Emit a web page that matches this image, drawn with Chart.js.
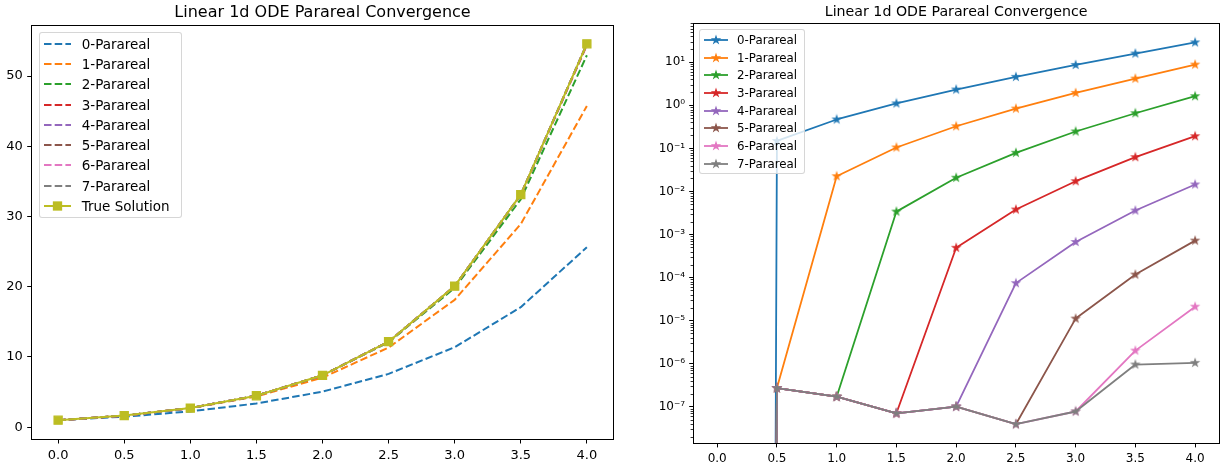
<!DOCTYPE html>
<html>
<head>
<meta charset="utf-8">
<script src="https://cdn.jsdelivr.net/npm/chart.js@4.4.1/dist/chart.umd.min.js"></script>
<style>
  html, body { margin: 0; padding: 0; background: #fff; }
  body { width: 1225px; height: 467px; position: relative; overflow: hidden; font-family: "DejaVu Sans", sans-serif; }
  canvas.plot { position: absolute; top: 0; }
  .legend {
    position: absolute; box-sizing: border-box;
    background: rgba(255,255,255,0.8);
    border: 1px solid rgba(204,204,204,0.8);
    border-radius: 3px; color: #000;
  }
  .legend .row { display: flex; align-items: center; white-space: nowrap; }
  .legend canvas { display: block; }
</style>
</head>
<body>
<canvas class="plot" id="linChart" width="640" height="467" style="left:0"></canvas>
<canvas class="plot" id="logChart" width="585" height="467" style="left:640px"></canvas>
<div class="legend" id="legLin"></div>
<div class="legend" id="legLog"></div>
<script>
const title = "Linear 1d ODE Parareal Convergence";
const tValues = [0, 0.5, 1.0, 1.5, 2.0, 2.5, 3.0, 3.5, 4.0];
const xTicks = [0, 0.5, 1.0, 1.5, 2.0, 2.5, 3.0, 3.5, 4.0];
const linYTicks = [0, 10, 20, 30, 40, 50];
const logYTicks = [1e-7, 1e-6, 1e-5, 1e-4, 1e-3, 1e-2, 1e-1, 1e0, 1e1];
const names = ["0-Parareal", "1-Parareal", "2-Parareal", "3-Parareal", "4-Parareal", "5-Parareal", "6-Parareal", "7-Parareal"];
const colors = ["#1f77b4", "#ff7f0e", "#2ca02c", "#d62728", "#9467bd", "#8c564b", "#e377c2", "#7f7f7f"];
const trueColor = "#bcbd22";

// left panel: solution values
const trueSolution = [1.00, 1.65, 2.72, 4.48, 7.39, 12.18, 20.09, 33.12, 54.60];
const para0 = [1.00, 1.50, 2.25, 3.38, 5.06, 7.59, 11.39, 17.09, 25.63];
const para1 = [1.00, 1.65, 2.70, 4.38, 7.06, 11.34, 18.14, 28.93, 45.75];
const para2 = [1.00, 1.65, 2.72, 4.48, 7.37, 12.10, 19.84, 32.46, 52.97];
const para3 = [1.00, 1.65, 2.72, 4.48, 7.39, 12.18, 20.07, 33.06, 54.41];
const para4 = [1.00, 1.65, 2.72, 4.48, 7.39, 12.18, 20.09, 33.12, 54.59];
const para5 = [1.00, 1.65, 2.72, 4.48, 7.39, 12.18, 20.09, 33.12, 54.60];
const para6 = [1.00, 1.65, 2.72, 4.48, 7.39, 12.18, 20.09, 33.12, 54.60];
const para7 = [1.00, 1.65, 2.72, 4.48, 7.39, 12.18, 20.09, 33.12, 54.60];

// right panel: absolute error (0 at t=0)
const err0 = [0, 0.149, 0.47, 1.11, 2.33, 4.6, 8.7, 16.0, 29.0];
const err1 = [0, 2.7e-7, 0.0226, 0.105, 0.327, 0.84, 1.95, 4.19, 8.85];
const err2 = [0, 2.7e-7, 1.7e-7, 3.4e-3, 0.0208, 0.079, 0.247, 0.656, 1.63];
const err3 = [0, 2.7e-7, 1.7e-7, 7.0e-8, 4.9e-4, 3.8e-3, 0.0173, 0.0625, 0.192];
const err4 = [0, 2.7e-7, 1.7e-7, 7.0e-8, 1.0e-7, 7.4e-5, 6.7e-4, 3.6e-3, 0.0145];
const err5 = [0, 2.7e-7, 1.7e-7, 7.0e-8, 1.0e-7, 3.9e-8, 1.11e-5, 1.17e-4, 7.2e-4];
const err6 = [0, 2.7e-7, 1.7e-7, 7.0e-8, 1.0e-7, 3.9e-8, 7.7e-8, 2.0e-6, 2.1e-5];
const err7 = [0, 2.7e-7, 1.7e-7, 7.0e-8, 1.0e-7, 3.9e-8, 7.7e-8, 9.5e-7, 1.04e-6];

const paraSeries = [para0, para1, para2, para3, para4, para5, para6, para7];
const errSeries = [err0, err1, err2, err3, err4, err5, err6, err7];

Chart.defaults.font.family = "DejaVu Sans";
Chart.defaults.color = "#000";

const pts = (ys, fix = v => v) => tValues.map((t, i) => ({ x: t, y: fix(ys[i]) }));
// log axis cannot show 0: push it far below like matplotlib's clipping
const logSafe = v => (v > 0 ? v : Number.MIN_VALUE);

function starImage(color, r, edge) {
  const size = Math.ceil(2 * (r + edge)) + 2;
  const c = document.createElement("canvas");
  c.width = c.height = size;
  const ctx = c.getContext("2d");
  ctx.translate(size / 2, size / 2);
  ctx.beginPath();
  for (let i = 0; i < 10; i++) {
    const a = -Math.PI / 2 + i * Math.PI / 5;
    const rr = i % 2 ? r * 0.382 : r;
    ctx.lineTo(rr * Math.cos(a), rr * Math.sin(a));
  }
  ctx.closePath();
  ctx.fillStyle = color;
  ctx.fill();
  ctx.lineWidth = edge;
  ctx.strokeStyle = color;
  ctx.lineJoin = "miter";
  ctx.stroke();
  return c;
}

// axes box drawn on whole pixels so it stays crisp
const frame = {
  id: "frame",
  afterDatasetsDraw(chart) {
    const { left, top, right, bottom } = chart.chartArea;
    const l = Math.floor(left) + 0.5, t = Math.floor(top) + 0.5;
    const r = Math.floor(right) + 0.5, b = Math.floor(bottom) + 0.5;
    const ctx = chart.ctx;
    ctx.save();
    ctx.strokeStyle = "#000";
    ctx.lineWidth = 1;
    ctx.strokeRect(l, t, r - l, b - t);
    ctx.restore();
  },
};

const minorTicks = {
  id: "minorTicks",
  afterDraw(chart) {
    const y = chart.scales.y;
    const left = Math.floor(chart.chartArea.left);
    const ctx = chart.ctx;
    ctx.save();
    ctx.strokeStyle = "#000";
    ctx.lineWidth = 0.8;
    ctx.beginPath();
    for (let e = -9; e <= 2; e++) {
      for (let m = 2; m <= 9; m++) {
        const v = m * Math.pow(10, e);
        if (v <= y.min || v >= y.max) continue;
        const py = Math.round(y.getPixelForValue(v)) + 0.5;
        ctx.moveTo(left - 2.4, py);
        ctx.lineTo(left, py);
      }
    }
    ctx.stroke();
    ctx.restore();
  },
};

function margins(lo, hi) {
  const d = (hi - lo) * 0.05;
  return [lo - d, hi + d];
}

// ---------- left: solutions ----------
const allLin = paraSeries.flat().concat(trueSolution);
const [linMin, linMax] = margins(Math.min(...allLin), Math.max(...allLin));

const linDatasets = paraSeries.map((s, i) => ({
  label: names[i],
  data: pts(s),
  borderColor: colors[i],
  borderWidth: 2,
  borderDash: [7.5, 3.2],
  borderJoinStyle: "round",
  pointRadius: 0,
  fill: false,
  clip: 0,
  order: 20 - i,
}));
linDatasets.push({
  label: "True Solution",
  data: pts(trueSolution),
  borderColor: trueColor,
  borderWidth: 2,
  borderJoinStyle: "round",
  pointStyle: "rect",
  pointRadius: 5.7,
  pointBorderWidth: 1.3,
  pointBackgroundColor: trueColor,
  pointBorderColor: trueColor,
  fill: false,
  clip: 0,
  order: 0,
});

new Chart(document.getElementById("linChart"), {
  type: "line",
  data: { datasets: linDatasets },
  options: {
    responsive: false,
    animation: false,
    events: [],
    layout: { padding: { left: 0, right: 26.7, top: 0, bottom: 0 } },
    plugins: {
      legend: { display: false },
      tooltip: { enabled: false },
      title: {
        display: true, text: title, color: "#000", fullSize: false,
        font: { size: 16, weight: "normal" },
        padding: { top: 3, bottom: 2.8 },
      },
    },
    scales: {
      x: {
        type: "linear", min: -0.2, max: 4.2,
        afterFit: s => { s.height = 28; },
        afterBuildTicks: s => { s.ticks = xTicks.map(v => ({ value: v })); },
        ticks: { callback: v => v.toFixed(1), font: { size: 13 }, color: "#000", padding: 4.5, maxRotation: 0, autoSkip: false },
        grid: { drawOnChartArea: false, drawTicks: true, tickLength: 4.5, color: "#000", lineWidth: 1 },
        border: { display: false },
      },
      y: {
        type: "linear", min: linMin, max: linMax,
        afterFit: s => { s.width = 31.7; },
        afterBuildTicks: s => { s.ticks = linYTicks.map(v => ({ value: v })); },
        ticks: { callback: v => String(v), font: { size: 13 }, color: "#000", padding: 4.5, autoSkip: false },
        grid: { drawOnChartArea: false, drawTicks: true, tickLength: 4.5, color: "#000", lineWidth: 1 },
        border: { display: false },
      },
    },
  },
  plugins: [frame],
});

// ---------- right: errors on log scale ----------
const positives = errSeries.flat().filter(v => v > 0);
const [lgLo, lgHi] = margins(Math.log10(Math.min(...positives)), Math.log10(Math.max(...positives)));

const stars = colors.map(c => starImage(c, 3.55, 1.2));
const logDatasets = errSeries.map((s, i) => ({
  label: names[i],
  data: pts(s, logSafe),
  borderColor: colors[i],
  borderWidth: 1.8,
  borderJoinStyle: "round",
  pointStyle: stars[i],
  pointRadius: 4,
  fill: false,
  clip: 0,
  order: 20 - i,
}));

const sup = { "-": "\u207B", "0": "\u2070", "1": "\u00B9", "2": "\u00B2", "3": "\u00B3", "4": "\u2074", "5": "\u2075", "6": "\u2076", "7": "\u2077", "8": "\u2078", "9": "\u2079" };
const powLabel = v => "10" + String(Math.round(Math.log10(v))).split("").map(c => sup[c]).join("");

new Chart(document.getElementById("logChart"), {
  type: "line",
  data: { datasets: logDatasets },
  options: {
    responsive: false,
    animation: false,
    events: [],
    layout: { padding: { left: 0, right: 6, top: 0, bottom: 0 } },
    plugins: {
      legend: { display: false },
      tooltip: { enabled: false },
      title: {
        display: true, text: title, color: "#000", fullSize: false,
        font: { size: 14.2, weight: "normal" },
        padding: { top: 3.5, bottom: 2.8 },
      },
    },
    scales: {
      x: {
        type: "linear", min: -0.2, max: 4.2,
        afterFit: s => { s.height = 23.7; },
        afterBuildTicks: s => { s.ticks = xTicks.map(v => ({ value: v })); },
        ticks: { callback: v => v.toFixed(1), font: { size: 12 }, color: "#000", padding: 4.1, maxRotation: 0, autoSkip: false },
        grid: { drawOnChartArea: false, drawTicks: true, tickLength: 4.1, color: "#000", lineWidth: 1 },
        border: { display: false },
      },
      y: {
        type: "logarithmic", bounds: "data",
        min: Math.pow(10, lgLo), max: Math.pow(10, lgHi),
        afterFit: s => { s.width = 53.3; },
        afterBuildTicks: s => { s.ticks = logYTicks.map(v => ({ value: v })); },
        ticks: { callback: v => powLabel(v), font: { size: 12 }, color: "#000", padding: 4.1, autoSkip: false },
        grid: { drawOnChartArea: false, drawTicks: true, tickLength: 4.1, color: "#000", lineWidth: 1 },
        border: { display: false },
      },
    },
  },
  plugins: [frame, minorTicks],
});

// ---------- legends (matplotlib style, inside axes) ----------
function handle(w, h, color, lw, dash, marker) {
  const c = document.createElement("canvas");
  c.width = w; c.height = h;
  const ctx = c.getContext("2d");
  ctx.strokeStyle = color;
  ctx.lineWidth = lw;
  ctx.setLineDash(dash || []);
  ctx.beginPath();
  ctx.moveTo(0, h / 2);
  ctx.lineTo(w, h / 2);
  ctx.stroke();
  ctx.setLineDash([]);
  if (marker === "square") {
    ctx.fillStyle = color;
    ctx.fillRect(w / 2 - 4, h / 2 - 4, 8, 8);
    ctx.lineWidth = 1.3;
    ctx.strokeRect(w / 2 - 4, h / 2 - 4, 8, 8);
  } else if (marker) {
    ctx.drawImage(marker, (w - marker.width) / 2, (h - marker.height) / 2);
  }
  return c;
}

function buildLegend(el, box, entries) {
  Object.assign(el.style, {
    left: box.left + "px", top: box.top + "px", width: box.width + "px", height: box.height + "px",
    paddingTop: box.padTop + "px", paddingLeft: box.padLeft + "px", fontSize: box.font + "px",
  });
  entries.forEach(e => {
    const row = document.createElement("div");
    row.className = "row";
    row.style.height = box.row + "px";
    row.appendChild(e.handle);
    const span = document.createElement("span");
    span.textContent = e.label;
    span.style.marginLeft = box.gap + "px";
    row.appendChild(span);
    el.appendChild(row);
  });
}

const linEntries = names.map((n, i) => ({ label: n, handle: handle(27, 14, colors[i], 2, [7.5, 3.2]) }));
linEntries.push({ label: "True Solution", handle: handle(27, 14, trueColor, 2, null, "square") });
buildLegend(document.getElementById("legLin"),
  { left: 38.5, top: 31.7, width: 143.2, height: 186.3, padTop: 1.0, padLeft: 4.4, font: 13.5, row: 20.25, gap: 10.8 },
  linEntries);

const logEntries = names.map((n, i) => ({ label: n, handle: handle(24, 12, colors[i], 1.8, null, stars[i]) }));
buildLegend(document.getElementById("legLog"),
  { left: 699.0, top: 29.2, width: 106, height: 145.1, padTop: 0.8, padLeft: 3.7, font: 11.8, row: 17.7, gap: 9.4 },
  logEntries);
</script>
</body>
</html>
